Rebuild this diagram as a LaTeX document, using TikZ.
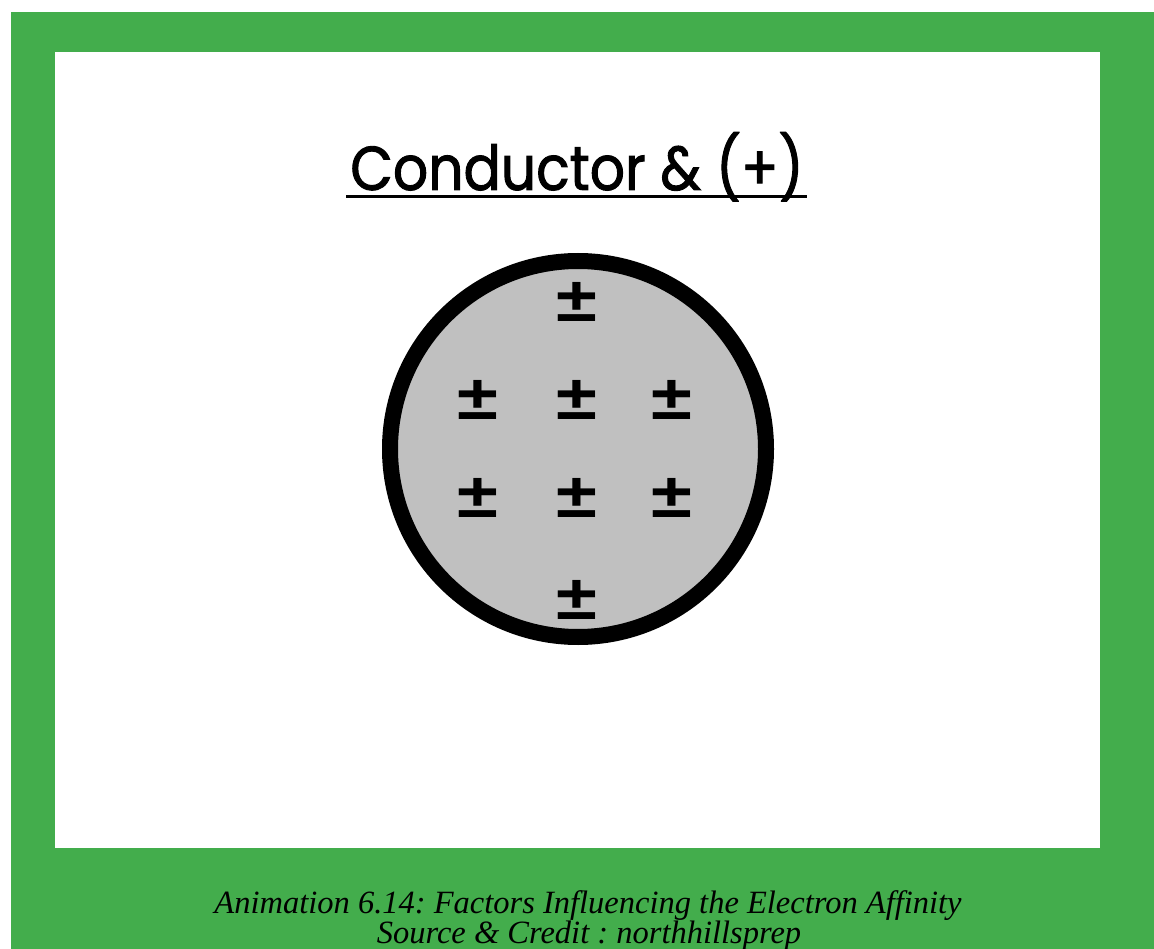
\documentclass[tikz,border=0pt]{standalone}
\usepackage{fontspec}
\setmainfont{Liberation Serif}
\newfontfamily\titlefont[FakeStretch=0.89,FakeBold=1.5]{Poppins}
\newfontfamily\symfont{Liberation Sans Bold}
\definecolor{framegreen}{RGB}{67,173,76}
\definecolor{discgray}{RGB}{192,192,192}
\frenchspacing
\begin{document}
\begin{tikzpicture}[x=1pt,y=-1pt,
  titletext/.style={inner sep=0pt, anchor=base, font=\titlefont\fontsize{62}{70}\selectfont},
  disc/.style={circle, draw=black, line width=16pt, fill=discgray, minimum size=376pt, inner sep=0pt},
  charge/.style={inner sep=0pt, anchor=base, transform shape, xscale=1.18, font=\symfont\fontsize{63}{66}\selectfont},
  captiontext/.style={inner sep=0pt, anchor=base, font=\itshape\fontsize{32.5}{35}\selectfont}]
\useasboundingbox (0,0) rectangle (1154,949);
\fill[white] (0,0) rectangle (1154,949);
\fill[framegreen] (11,12) rectangle (1154,949);
\fill[white] (55,52) rectangle (1100,848);
\node[titletext] (title) at (577,190) {Conductor \& (+)};
\draw[line width=3pt] ([shift={(-4,7)}]title.base west) -- ([shift={(3,7)}]title.base east);
\node[disc] (disc) at (578,449) {};
\node[charge] (c1) at (577,322) {±};
\node[charge] (c2) at (478,420) {±};
\node[charge] (c3) at (577,420) {±};
\node[charge] (c4) at (672,420) {±};
\node[charge] (c5) at (478,517) {±};
\node[charge] (c6) at (577,517) {±};
\node[charge] (c7) at (672,517) {±};
\node[charge] (c8) at (577,619) {±};
\node[captiontext] (cap1) at (588,913) {Animation 6.14: Factors Influencing the Electron Affinity};
\node[captiontext] (cap2) at (589,943) {Source \& Credit : northhillsprep};
\end{tikzpicture}
\end{document}
